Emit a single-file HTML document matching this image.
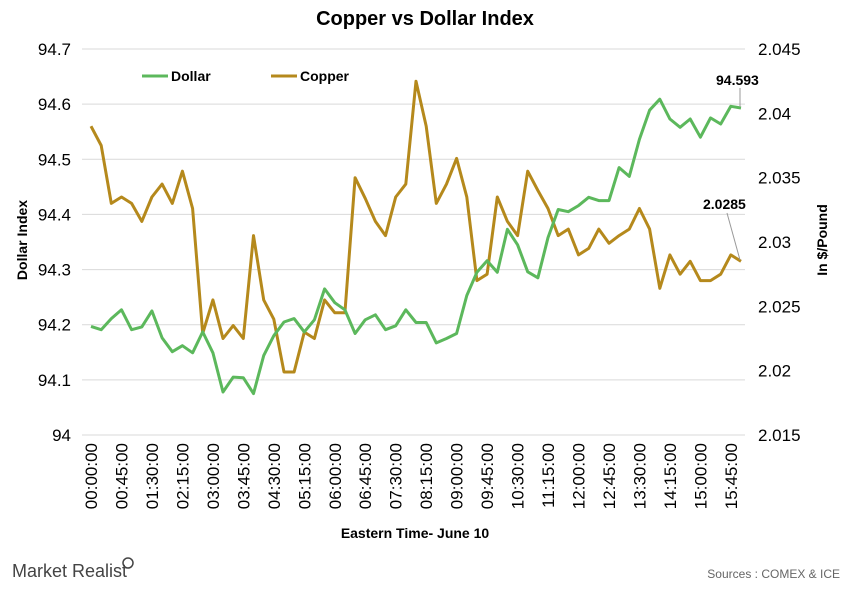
<!DOCTYPE html>
<html><head><meta charset="utf-8"><style>
body{margin:0;background:#fff;font-family:"Liberation Sans",Arial,sans-serif}
svg text{font-family:"Liberation Sans",Arial,sans-serif}
</style></head><body>
<svg id="c" width="850" height="587" xmlns="http://www.w3.org/2000/svg">
<text x="425" y="25" text-anchor="middle" font-size="20" font-weight="bold">Copper vs Dollar Index</text>
<g id="grid"></g><g id="ticks"></g><g id="lines"></g>
<text transform="translate(27,240) rotate(-90)" text-anchor="middle" font-size="14" font-weight="bold">Dollar Index</text>
<text transform="translate(827,240) rotate(-90)" text-anchor="middle" font-size="14" font-weight="bold">In $/Pound</text>
<text x="415" y="538" text-anchor="middle" font-size="14" font-weight="bold">Eastern Time- June 10</text>
<g><line x1="142" y1="76" x2="168" y2="76" stroke="#5cb85c" stroke-width="3"/><text x="171" y="81" font-size="14" font-weight="bold">Dollar</text></g>
<g><line x1="271" y1="76" x2="297" y2="76" stroke="#b5891c" stroke-width="3"/><text x="300" y="81" font-size="14" font-weight="bold">Copper</text></g>
<text x="716" y="85" font-size="14" font-weight="bold">94.593</text>
<path d="M740 88 L740 107" stroke="#999" fill="none"/>
<text x="703" y="209" font-size="14" font-weight="bold">2.0285</text>
<path d="M727 213 L740 260" stroke="#999" fill="none"/>
<text x="12" y="577" font-size="18" fill="#444">Market Realist</text>
<circle cx="128" cy="563" r="5" fill="none" stroke="#444" stroke-width="1.5"/>
<text x="840" y="578" text-anchor="end" font-size="12" fill="#666">Sources : COMEX &amp; ICE</text>
</svg>
<script>
const dollar=[94.197,94.191,94.211,94.227,94.191,94.196,94.225,94.176,94.151,94.162,94.149,94.187,94.149,94.078,94.105,94.104,94.075,94.144,94.180,94.205,94.211,94.187,94.209,94.265,94.240,94.227,94.184,94.209,94.218,94.191,94.198,94.227,94.204,94.204,94.167,94.175,94.184,94.253,94.295,94.316,94.295,94.373,94.345,94.296,94.285,94.358,94.409,94.405,94.416,94.431,94.425,94.425,94.485,94.469,94.536,94.589,94.609,94.573,94.558,94.573,94.540,94.575,94.564,94.596,94.593];
const copper=[2.0390,2.0375,2.0330,2.0335,2.0330,2.0316,2.0335,2.0345,2.0330,2.0355,2.0326,2.0229,2.0255,2.0225,2.0235,2.0225,2.0305,2.0255,2.0240,2.0199,2.0199,2.0230,2.0225,2.0255,2.0245,2.0245,2.0350,2.0334,2.0316,2.0305,2.0335,2.0345,2.0425,2.0390,2.0330,2.0345,2.0365,2.0335,2.0270,2.0275,2.0335,2.0316,2.0305,2.0355,2.0340,2.0326,2.0305,2.0310,2.0290,2.0295,2.0310,2.0299,2.0305,2.0310,2.0326,2.0310,2.0264,2.0290,2.0275,2.0285,2.0270,2.0270,2.0275,2.0290,2.0285];
const leftTicks=["94","94.1","94.2","94.3","94.4","94.5","94.6","94.7"];
const rightTicks=["2.015","2.02","2.025","2.03","2.035","2.04","2.045"];
const ns="http://www.w3.org/2000/svg";
const X0=91,X1=741,Y0=435,Y1=49;
const xs=i=>X0+(X1-X0)*i/(dollar.length-1);
const yl=v=>Y0-(v-94)/0.7*(Y0-Y1);
const yr=v=>Y0-(v-2.015)/0.03*(Y0-Y1);
function mk(t,a,p){const e=document.createElementNS(ns,t);for(const k in a)e.setAttribute(k,a[k]);p.appendChild(e);return e;}
const g=document.getElementById('grid'),tk=document.getElementById('ticks'),ln=document.getElementById('lines');
leftTicks.forEach(t=>{const y=yl(+t);
 if(+t>94){const l=mk('line',{x1:82,x2:745,y1:y,y2:y,stroke:'#d9d9d9','stroke-width':1},g);
 
 }
 const e=mk('text',{x:71,y:y+6,'text-anchor':'end','font-size':17},tk);e.textContent=t;
 
 });
rightTicks.forEach(t=>{const y=yr(+t);const e=mk('text',{x:758,y:y+6,'font-size':17},tk);e.textContent=t;
 
 });
const ax=mk('line',{x1:82,x2:745,y1:Y0,y2:Y0,stroke:'#d9d9d9'},g);


for(let i=0;i<dollar.length-1;i+=3){const m=i*15,h=String(Math.floor(m/60)).padStart(2,'0'),mm=String(m%60).padStart(2,'0');
 const x=xs(i)+6;const e=mk('text',{transform:`translate(${x},443) rotate(-90)`,'text-anchor':'end','font-size':17},tk);
 e.textContent=`${h}:${mm}:00`;
 
 }
const pc=copper.map((v,i)=>`${xs(i).toFixed(1)},${yr(v).toFixed(1)}`).join(' ');
const c=mk('polyline',{points:pc,fill:'none',stroke:'#b5891c','stroke-width':3,'stroke-linejoin':'round'},ln);


const pd=dollar.map((v,i)=>`${xs(i).toFixed(1)},${yl(v).toFixed(1)}`).join(' ');
const d=mk('polyline',{points:pd,fill:'none',stroke:'#5cb85c','stroke-width':3,'stroke-linejoin':'round'},ln);


</script>
</body></html>
